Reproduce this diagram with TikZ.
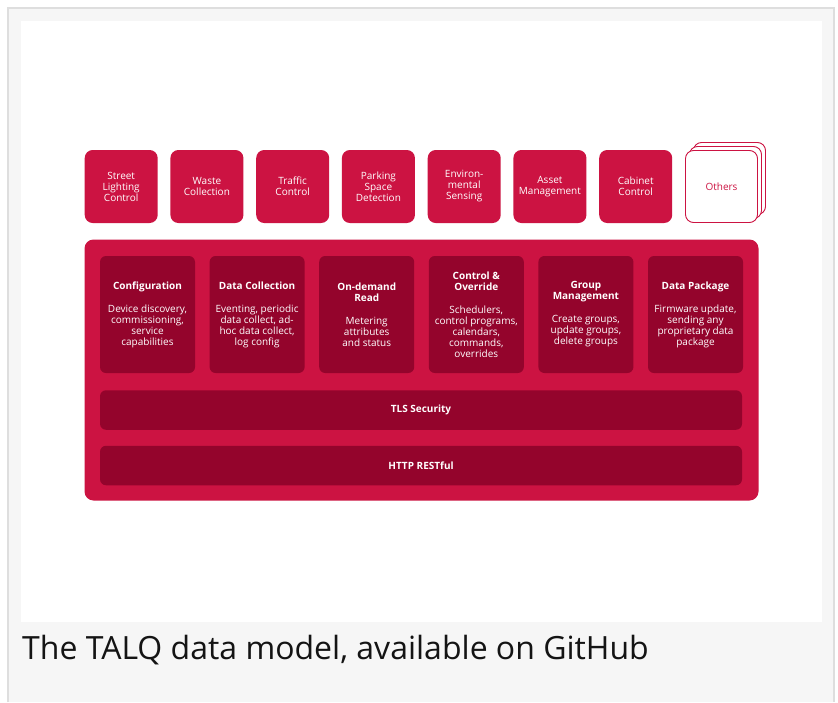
\documentclass[tikz,border=0pt]{standalone}
\usepackage{fontspec}
\setmainfont{Open Sans}
\usetikzlibrary{backgrounds}
\definecolor{talqred}{RGB}{204,19,66}
\definecolor{talqdark}{RGB}{148,4,44}
\definecolor{framegray}{RGB}{222,222,222}
\definecolor{pagegray}{RGB}{246,246,246}
\tikzstyle{every picture}=[x=1pt, y=-1pt]
\tikzstyle{appbox}=[rectangle, rounded corners=8pt, fill=talqred, text=white, minimum size=73pt, inner sep=0pt, align=center, font=\fontsize{10}{11}\selectfont]
\tikzstyle{otherbox}=[appbox, fill=white, draw=talqred, line width=0.9pt, text=talqred, minimum size=72pt]
\tikzstyle{funcbox}=[rectangle, rounded corners=6pt, fill=talqdark, text=white, minimum width=95pt, minimum height=117pt, inner sep=0pt, align=center, font=\fontsize{10}{11}\selectfont]
\tikzstyle{layerbar}=[rectangle, rounded corners=6pt, fill=talqdark, text=white, minimum width=642pt, minimum height=39.5pt, inner sep=0pt, font=\fontsize{10}{11}\selectfont\bfseries]

\begin{document}
\begin{tikzpicture}

	\useasboundingbox (0,0) rectangle (838,702);
	% page frame
	\fill[pagegray] (7,7) rectangle (834,702);
	\draw[framegray, line width=2pt] (7.5,702) -- (7.5,7.5) -- (833.5,7.5) -- (833.5,702);
	\fill[white] (20.5,20.5) rectangle (822,621.5);

	% data model block
	\fill[talqred, rounded corners=9pt] (84.5,239.5) rectangle (758.5,500.5);

	\path (147.5,314.5) node[funcbox] (f_0) {\textbf{Configuration}\\[12pt]Device discovery,\\commissioning,\\service\\capabilities}
	      (257.1,314.5) node[funcbox] (f_1) {\textbf{Data Collection}\\[12pt]Eventing, periodic\\data collect, ad-\\hoc data collect,\\log config}
	      (366.7,314.5) node[funcbox] (f_2) {\textbf{On-demand}\\\textbf{Read}\\[12pt]Metering\\attributes\\and status}
	      (476.3,314.5) node[funcbox] (f_3) {\textbf{Control \&}\\\textbf{Override}\\[12pt]Schedulers,\\control programs,\\calendars,\\commands,\\overrides}
	      (585.9,314.5) node[funcbox] (f_4) {\textbf{Group}\\\textbf{Management}\\[12pt]Create groups,\\update groups,\\delete groups}
	      (695.5,314.5) node[funcbox] (f_5) {\textbf{Data Package}\\[12pt]Firmware update,\\sending any\\proprietary data\\package};

	\path (421,410) node[layerbar] (tls) {TLS Security}
	      (421,465.5) node[layerbar] (http) {HTTP RESTful};

	% applications
	\path (121.2,186.5) node[appbox] (a_0) {Street\\Lighting\\Control}
	      (206.9,186.5) node[appbox] (a_1) {Waste\\Collection}
	      (292.7,186.5) node[appbox] (a_2) {Traffic\\Control}
	      (378.4,186.5) node[appbox] (a_3) {Parking\\Space\\Detection}
	      (464.2,186.5) node[appbox] (a_4) {Environ-\\mental\\Sensing}
	      (549.9,186.5) node[appbox] (a_5) {Asset\\Management}
	      (635.7,186.5) node[appbox] (a_6) {Cabinet\\Control};

	\path (729.5,178.5) node[otherbox] (o_2) {}
	      (725.5,182.5) node[otherbox] (o_1) {}
	      (721.5,186.5) node[otherbox] (o_0) {Others};

	% caption
	\path (22,659) node[anchor=base west, inner sep=0pt, text=black!92, font=\fontsize{32}{38}\selectfont] (caption) {The TALQ data model, available on GitHub};

\end{tikzpicture}
\end{document}
